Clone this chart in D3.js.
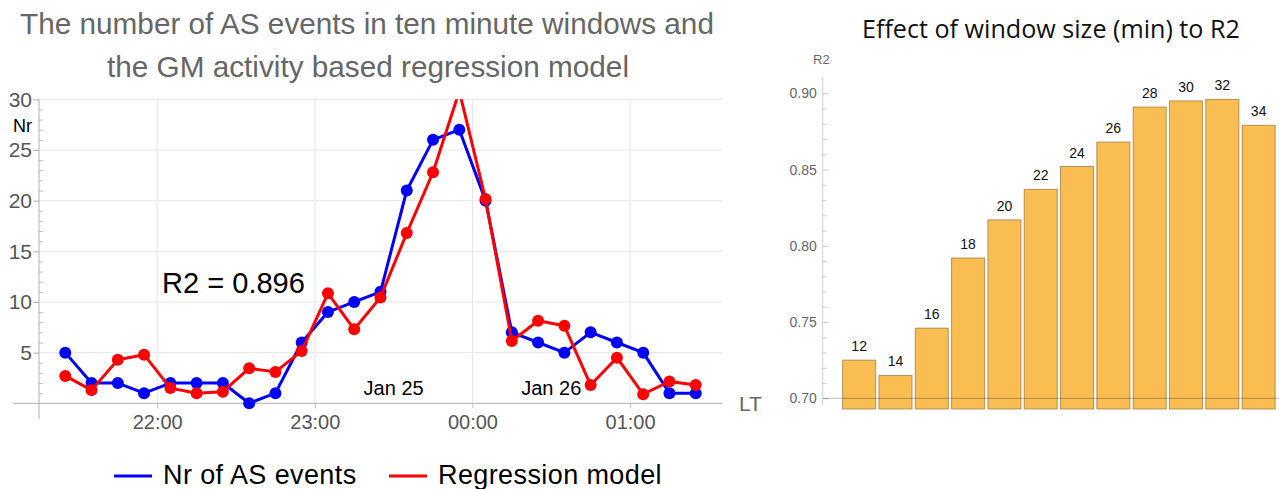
<!DOCTYPE html>
<html>
<head>
<meta charset="utf-8">
<script src="https://cdn.jsdelivr.net/npm/d3@7"></script>
<style>
  body { margin: 0; background: #fff; }
  svg { display: block; }
</style>
</head>
<body>
<svg id="main-svg"></svg>
<script>
// ten minute windows (centre of each window)
var windowTimes = ["Jan 25 21:25", "Jan 25 21:35", "Jan 25 21:45", "Jan 25 21:55", "Jan 25 22:05",
  "Jan 25 22:15", "Jan 25 22:25", "Jan 25 22:35", "Jan 25 22:45", "Jan 25 22:55", "Jan 25 23:05",
  "Jan 25 23:15", "Jan 25 23:25", "Jan 25 23:35", "Jan 25 23:45", "Jan 25 23:55", "Jan 26 00:05",
  "Jan 26 00:15", "Jan 26 00:25", "Jan 26 00:35", "Jan 26 00:45", "Jan 26 00:55", "Jan 26 01:05",
  "Jan 26 01:15", "Jan 26 01:25"];
var asEvents = [5, 2, 2, 1, 2, 2, 2, 0, 1, 6, 9, 10, 11, 21, 26, 27, 20, 7, 6, 5, 7, 6, 5, 1, 1];
var regModel = [2.7, 1.3, 4.3, 4.8, 1.5, 1.0, 1.15, 3.45, 3.1, 5.15, 10.85, 7.3, 10.45, 16.8, 22.8,
  30.8, 20.15, 6.15, 8.15, 7.65, 1.8, 4.5, 0.9, 2.15, 1.8];
var hourTicks = ["Jan 25 22:00", "Jan 25 23:00", "Jan 26 00:00", "Jan 26 01:00"];
var nrTicks = [5, 10, 15, 20, 25, 30];
var dayLabels = [["Jan 25 23:30", "Jan 25"], ["Jan 26 00:30", "Jan 26"]];
var timeDomain = ["Jan 25 21:15", "Jan 26 01:35"];

// window size vs R2
var windowSizes = [12, 14, 16, 18, 20, 22, 24, 26, 28, 30, 32, 34];
var r2Values = [0.725, 0.715, 0.746, 0.792, 0.817, 0.837, 0.852, 0.868, 0.891, 0.895, 0.896, 0.879];
var r2Ticks = [0.70, 0.75, 0.80, 0.85, 0.90];

var width = 1279, height = 489;
var svg = d3.select("#main-svg").attr("width", width).attr("height", height);
var parse = d3.timeParse("%b %d %H:%M");
var leftFont = "'Liberation Sans', Arial, sans-serif";

function fitWidth(t, w) {
  var fs = parseFloat(t.attr("font-size"));
  var len = t.node().getComputedTextLength();
  t.attr("font-size", (fs * w / len).toFixed(2));
  return t;
}

// ---------- left chart ----------
var x = d3.scaleTime().domain(timeDomain.map(parse)).range([39, 722]);
var y = d3.scaleLinear().domain([0, 30]).range([403.3, 99.3]);

var left = svg.append("g");

var t1 = left.append("text").attr("x", 367).attr("y", 34).attr("text-anchor", "middle")
  .attr("font-family", leftFont).attr("font-size", 26).attr("fill", "#666")
  .text("The number of AS events in ten minute windows and");
fitWidth(t1, 694);
left.append("text").attr("x", 368).attr("y", 77).attr("text-anchor", "middle")
  .attr("font-family", leftFont).attr("font-size", t1.attr("font-size")).attr("fill", "#666")
  .text("the GM activity based regression model");

// grid
left.append("g").selectAll("line").data(nrTicks).join("line")
  .attr("x1", x.range()[0]).attr("x2", x.range()[1])
  .attr("y1", function (d) { return y(d) }).attr("y2", function (d) { return y(d) })
  .attr("stroke", "#e6e6e6").attr("stroke-width", 1);
left.append("g").selectAll("line").data(hourTicks.map(parse)).join("line")
  .attr("x1", function (d) { return x(d) }).attr("x2", function (d) { return x(d) })
  .attr("y1", y(30)).attr("y2", y(0))
  .attr("stroke", "#e6e6e6").attr("stroke-width", 1);

// axes
var yAx = left.append("g").attr("transform", "translate(39,0)")
  .call(d3.axisLeft(y).tickValues(nrTicks).tickSize(6).tickPadding(1));
yAx.select(".domain").remove();
yAx.selectAll("line").attr("stroke", "#b0b0b0");
yAx.selectAll("text").attr("font-family", leftFont).attr("font-size", 21).attr("fill", "#555");
var yMinor = left.append("g").attr("transform", "translate(39,0)")
  .call(d3.axisLeft(y).tickValues(d3.range(1, 30).filter(function (d) { return d % 5 }))
    .tickSize(-4).tickFormat(""));
yMinor.select(".domain").remove();
yMinor.selectAll("line").attr("stroke", "#c0c0c0");
left.append("line").attr("x1", 39).attr("x2", 39).attr("y1", 99).attr("y2", 419)
  .attr("stroke", "#b0b0b0");

var xAx = left.append("g").attr("transform", "translate(0," + y(0) + ")")
  .call(d3.axisBottom(x).tickValues(hourTicks.map(parse)).tickSize(5).tickPadding(7)
    .tickFormat(d3.timeFormat("%H:%M")));
xAx.select(".domain").remove();
xAx.selectAll("line").attr("stroke", "#c0c0c0");
xAx.selectAll("text").attr("font-family", leftFont).attr("font-size", 20).attr("fill", "#555");
left.append("line").attr("x1", 13).attr("x2", 722).attr("y1", y(0)).attr("y2", y(0))
  .attr("stroke", "#b0b0b0");

left.append("text").attr("x", 13).attr("y", 132).attr("font-family", leftFont)
  .attr("font-size", 18).attr("fill", "#000").text("Nr");
left.append("text").attr("x", 739).attr("y", 411).attr("font-family", leftFont)
  .attr("font-size", 21).attr("fill", "#666").text("LT");

left.selectAll(".day").data(dayLabels).join("text").attr("class", "day")
  .attr("x", function (d) { return x(parse(d[0])) }).attr("y", y(0) - 8)
  .attr("text-anchor", "middle").attr("font-family", leftFont).attr("font-size", 20)
  .attr("fill", "#000").text(function (d) { return d[1] });

var r2t = left.append("text").attr("x", 162).attr("y", 293).attr("font-family", leftFont)
  .attr("font-size", 30).attr("fill", "#000").text("R2 = 0.896");
fitWidth(r2t, 143);

// series
left.append("clipPath").attr("id", "clipTop").append("rect")
  .attr("x", 0).attr("y", y(30)).attr("width", 760).attr("height", 200 + y(0));
var plot = left.append("g").attr("clip-path", "url(#clipTop)");
var times = windowTimes.map(parse);
var series = [{ vals: asEvents, col: "#0000ff" }, { vals: regModel, col: "#ff0000" }];
series.forEach(function (s) {
  var pts = times.map(function (t, i) { return [x(t), y(s.vals[i])] });
  plot.append("path").datum(pts).attr("d", d3.line()).attr("fill", "none")
    .attr("stroke", s.col).attr("stroke-width", 3).attr("stroke-linejoin", "round");
  plot.append("g").selectAll("circle").data(pts).join("circle")
    .attr("cx", function (d) { return d[0] }).attr("cy", function (d) { return d[1] })
    .attr("r", 6).attr("fill", s.col);
});

// legend
var legend = [{ label: "Nr of AS events", col: "#0000ff", x: 114 }, { label: "Regression model", col: "#ff0000", x: 389 }];
legend.forEach(function (l) {
  left.append("line").attr("x1", l.x).attr("x2", l.x + 38).attr("y1", 476).attr("y2", 476)
    .attr("stroke", l.col).attr("stroke-width", 3);
  left.append("text").attr("x", l.x + 49).attr("y", 484).attr("font-family", leftFont)
    .attr("font-size", 27).attr("letter-spacing", 0.4).attr("fill", "#000").text(l.label);
});

// ---------- right chart ----------
var xr = d3.scaleBand().domain(windowSizes).range([841, 1276.8]).paddingInner(0.09).paddingOuter(0.045);
var yr = d3.scaleLinear().domain([0.70, 0.90]).range([398.3, 93.3]);
var right = svg.append("g");

var rt = right.append("text").attr("x", 862).attr("y", 38)
  .attr("font-family", "'Open Sans', 'Noto Sans', sans-serif").attr("font-size", 22)
  .attr("fill", "#111").text("Effect of window size (min) to R2");
fitWidth(rt, 378);

right.append("text").attr("x", 813).attr("y", 64).attr("font-family", leftFont)
  .attr("font-size", 13).attr("fill", "#666").text("R2");

right.append("g").selectAll("rect").data(windowSizes).join("rect")
  .attr("x", function (d) { return xr(d) }).attr("width", xr.bandwidth())
  .attr("y", function (d, i) { return yr(r2Values[i]) })
  .attr("height", function (d, i) { return yr(0.693) - yr(r2Values[i]) })
  .attr("fill", "#f9bd52").attr("stroke", "#9c7a42").attr("stroke-opacity", 0.75).attr("stroke-width", 1);

right.append("g").selectAll("text").data(windowSizes).join("text")
  .attr("x", function (d) { return xr(d) + xr.bandwidth() / 2 })
  .attr("y", function (d, i) { return yr(r2Values[i]) - 9 })
  .attr("text-anchor", "middle").attr("font-family", leftFont).attr("font-size", 14)
  .attr("fill", "#111").text(function (d) { return d });

var yrAx = right.append("g").attr("transform", "translate(822.7,0)")
  .call(d3.axisLeft(yr).tickValues(r2Ticks).tickSize(-6).tickPadding(6).tickFormat(d3.format(".2f")));
yrAx.select(".domain").remove();
yrAx.selectAll("line").attr("stroke", "#c8c8c8");
yrAx.selectAll("text").attr("font-family", leftFont).attr("font-size", 14).attr("fill", "#666");
var yrMinor = right.append("g").attr("transform", "translate(822.7,0)")
  .call(d3.axisLeft(yr).tickValues(d3.range(71, 91).filter(function (d) { return d % 5 }).map(function (d) { return d / 100 }))
    .tickSize(-4).tickFormat(""));
yrMinor.select(".domain").remove();
yrMinor.selectAll("line").attr("stroke", "#d0d0d0");
right.append("line").attr("x1", 822.7).attr("x2", 822.7).attr("y1", 76.7).attr("y2", 405)
  .attr("stroke", "#d0d0d0");
right.append("line").attr("x1", 822.7).attr("x2", 1279).attr("y1", yr(0.70)).attr("y2", yr(0.70))
  .attr("stroke", "#000").attr("stroke-opacity", 0.22).attr("stroke-width", 1.2);
</script>
</body>
</html>
